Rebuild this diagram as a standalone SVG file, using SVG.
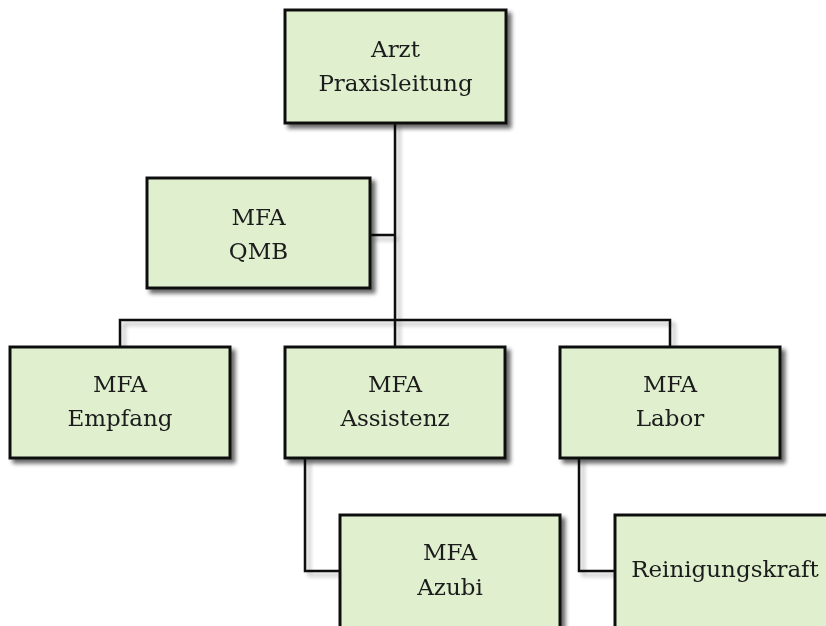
<svg xmlns="http://www.w3.org/2000/svg" width="826" height="626" viewBox="0 0 826 626">
<defs>
<filter id="sh" x="-10%" y="-10%" width="130%" height="130%">
<feGaussianBlur in="SourceAlpha" stdDeviation="2.2"/>
<feOffset dx="4" dy="4" result="b"/>
<feComponentTransfer><feFuncA type="linear" slope="0.6"/></feComponentTransfer>
<feMerge><feMergeNode/><feMergeNode in="SourceGraphic"/></feMerge>
</filter>
<filter id="lsh" x="0" y="0" width="826" height="626" filterUnits="userSpaceOnUse">
<feGaussianBlur in="SourceAlpha" stdDeviation="2.2"/>
<feOffset dx="4" dy="4"/>
<feComponentTransfer><feFuncA type="linear" slope="0.3"/></feComponentTransfer>
<feMerge><feMergeNode/><feMergeNode in="SourceGraphic"/></feMerge>
</filter>
</defs>
<style>
.box{fill:#e0f0cf;stroke:#111;stroke-width:3}
.t{font-family:"DejaVu Serif","Liberation Serif",serif;font-size:23px;fill:#1a1a1a;text-anchor:middle}
.c{fill:none;stroke:#111;stroke-width:2.5}
</style>
<rect width="826" height="626" fill="#fff"/>
<g id="connectors" filter="url(#lsh)">
<path class="c" d="M395,123 V320"/>
<path class="c" d="M370,235 H395"/>
<path class="c" d="M120,347 V320 H670 V347"/>
<path class="c" d="M395,320 V347"/>
<path class="c" d="M305,458 V571 H340"/>
<path class="c" d="M579,458 V571 H615"/>
</g>
<g id="arzt" filter="url(#sh)">
<rect class="box" x="285" y="10" width="221" height="113"/>
<text class="t" x="395.5" y="57">Arzt</text>
<text class="t" x="395.5" y="91">Praxisleitung</text>
</g>
<g id="qmb" filter="url(#sh)">
<rect class="box" x="147" y="178" width="223" height="110"/>
<text class="t" x="258.5" y="225">MFA</text>
<text class="t" x="258.5" y="259">QMB</text>
</g>
<g id="empfang" filter="url(#sh)">
<rect class="box" x="10" y="347" width="220" height="111"/>
<text class="t" x="120" y="392">MFA</text>
<text class="t" x="120" y="426">Empfang</text>
</g>
<g id="assistenz" filter="url(#sh)">
<rect class="box" x="285" y="347" width="220" height="111"/>
<text class="t" x="395" y="392">MFA</text>
<text class="t" x="395" y="426">Assistenz</text>
</g>
<g id="labor" filter="url(#sh)">
<rect class="box" x="560" y="347" width="220" height="111"/>
<text class="t" x="670" y="392">MFA</text>
<text class="t" x="670" y="426">Labor</text>
</g>
<g id="azubi" filter="url(#sh)">
<rect class="box" x="340" y="515" width="220" height="130"/>
<text class="t" x="450" y="560">MFA</text>
<text class="t" x="450" y="595">Azubi</text>
</g>
<g id="reinigungskraft" filter="url(#sh)">
<rect class="box" x="615" y="515" width="220" height="130"/>
<text class="t" x="725" y="577">Reinigungskraft</text>
</g>
</svg>
